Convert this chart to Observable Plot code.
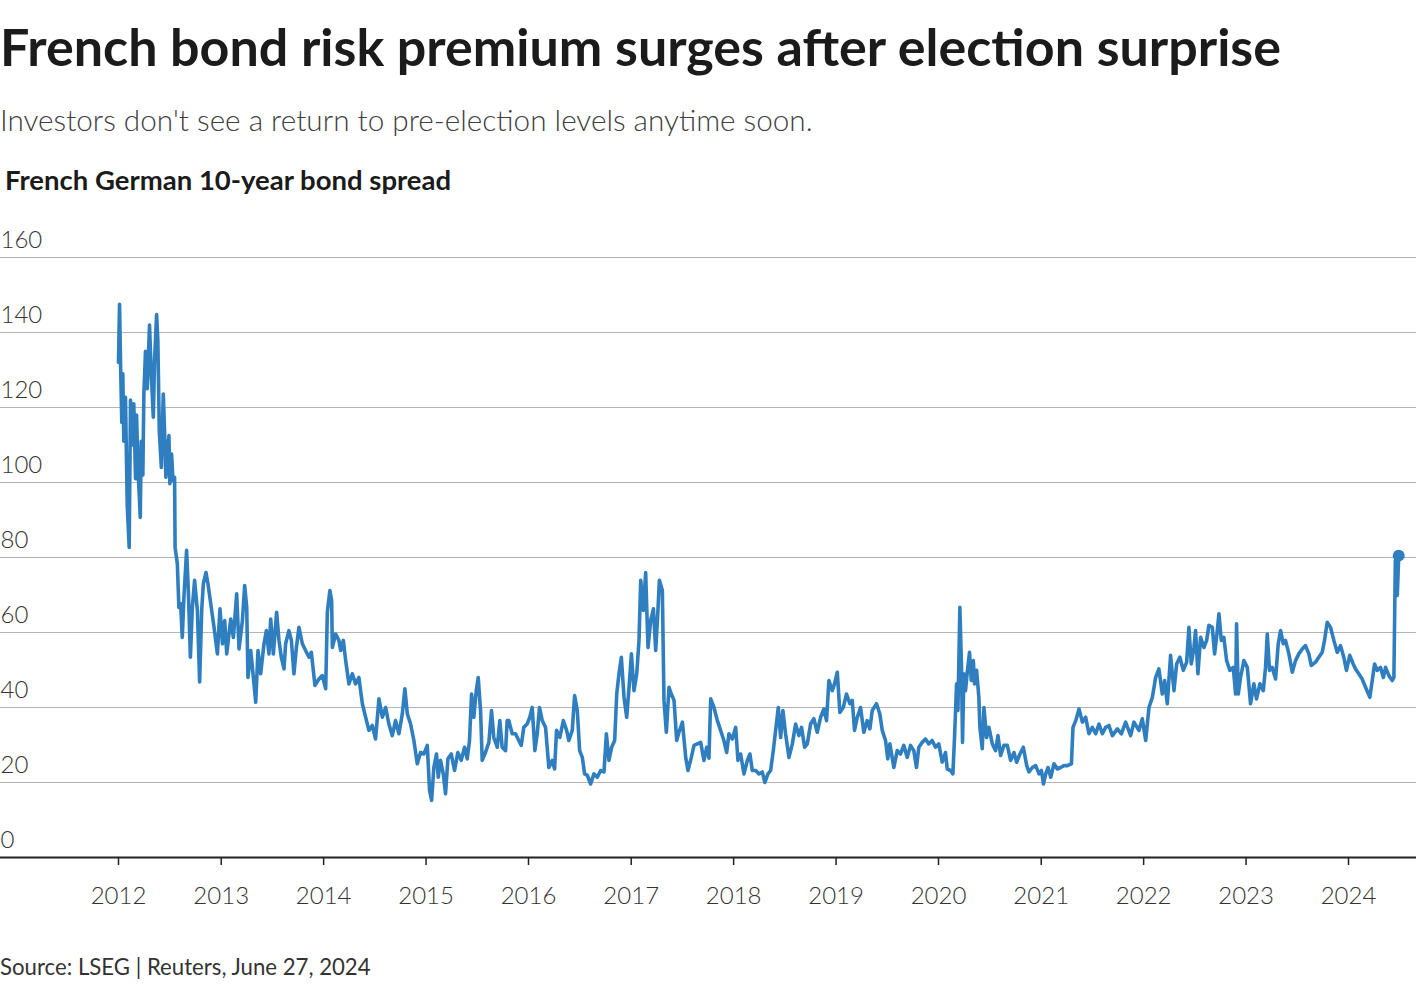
<!DOCTYPE html>
<html>
<head>
<meta charset="utf-8">
<script src="https://cdn.jsdelivr.net/npm/d3@7"></script>
<script src="https://cdn.jsdelivr.net/npm/@observablehq/plot@0.6"></script>
<style>
  html, body { margin: 0; padding: 0; background: #fff; }
  body { width: 1420px; height: 990px; position: relative; overflow: hidden; font-family: Lato, "Noto Sans", sans-serif; }
  .title { position: absolute; left: 0; top: 15px; font-size: 52px; font-weight: 700; color: #1b1b1b; white-space: nowrap; }
  .subtitle { position: absolute; left: 0; top: 102px; font-size: 29.7px; font-weight: 300; color: #404040; white-space: nowrap; }
  .label { position: absolute; left: 5px; top: 163px; font-size: 27.5px; font-weight: 700; color: #1b1b1b; white-space: nowrap; }
  .source { position: absolute; left: 0; top: 953px; font-size: 22.2px; font-weight: 400; color: #333; white-space: nowrap; }
  #chart { position: absolute; left: 0; top: 200px; }
</style>
</head>
<body>
<div class="title">French bond risk premium surges after election surprise</div>
<div class="subtitle">Investors don't see a return to pre-election levels anytime soon.</div>
<div class="label">French German 10-year bond spread</div>
<div id="chart"></div>
<div class="source">Source: LSEG | Reuters, June 27, 2024</div>
<script>
// Decimal-year dates of readings
const years = [
2012.000,2012.010,2012.020,2012.032,2012.042,2012.052,2012.068,2012.085,2012.104,2012.117,2012.134,2012.149,2012.166,2012.176,2012.188,2012.212,2012.221,2012.237,2012.247,2012.263,2012.280,2012.302,2012.319,2012.339,2012.351,2012.371,2012.383,2012.397,2012.417,2012.436,2012.452,2012.461,2012.491,2012.500,2012.517,2012.530,2012.546,2012.551,2012.573,2012.588,2012.605,2012.621,2012.637,2012.663,2012.680,2012.700,2012.719,2012.741,2012.768,2012.790,2012.810,2012.826,2012.852,2012.871,2012.898,2012.930,2012.963,2012.988,
2013.012,2013.034,2013.054,2013.093,2013.119,2013.151,2013.174,2013.207,2013.229,2013.249,2013.261,2013.288,2013.314,2013.337,2013.359,2013.385,2013.418,2013.441,2013.466,2013.483,2013.509,2013.541,2013.564,2013.587,2013.613,2013.629,2013.661,2013.685,2013.710,2013.734,2013.759,2013.792,2013.824,2013.857,2013.880,2013.915,2013.954,2013.987,
2014.020,2014.036,2014.061,2014.078,2014.085,2014.117,2014.149,2014.166,2014.192,2014.215,2014.247,2014.280,2014.312,2014.344,2014.378,2014.410,2014.442,2014.475,2014.507,2014.540,2014.573,2014.605,2014.637,2014.670,2014.702,2014.735,2014.768,2014.793,2014.817,2014.849,2014.881,2014.914,2014.946,2014.979,
2015.012,2015.034,2015.054,2015.076,2015.102,2015.119,2015.141,2015.168,2015.190,2015.213,2015.246,2015.278,2015.310,2015.343,2015.376,2015.402,2015.424,2015.444,2015.466,2015.490,2015.509,2015.532,2015.548,2015.580,2015.613,2015.639,2015.661,2015.695,2015.720,2015.743,2015.776,2015.792,2015.808,2015.841,2015.873,2015.905,2015.929,2015.954,2015.987,
2016.013,2016.036,2016.062,2016.085,2016.107,2016.134,2016.166,2016.198,2016.231,2016.254,2016.273,2016.305,2016.339,2016.371,2016.393,2016.426,2016.449,2016.475,2016.498,2016.524,2016.546,2016.573,2016.605,2016.637,2016.670,2016.702,2016.735,2016.758,2016.783,2016.810,2016.839,2016.859,2016.881,2016.904,2016.930,2016.956,2016.979,
2017.002,2017.027,2017.054,2017.076,2017.093,2017.119,2017.141,2017.164,2017.190,2017.217,2017.239,2017.256,2017.275,2017.304,2017.320,2017.343,2017.369,2017.392,2017.418,2017.444,2017.466,2017.500,2017.532,2017.554,2017.587,2017.613,2017.646,2017.678,2017.710,2017.737,2017.759,2017.776,2017.808,2017.841,2017.873,2017.905,2017.932,2017.954,2017.987,
2018.020,2018.042,2018.068,2018.101,2018.134,2018.159,2018.182,2018.215,2018.247,2018.280,2018.305,2018.335,2018.361,2018.387,2018.410,2018.436,2018.459,2018.481,2018.507,2018.540,2018.573,2018.605,2018.637,2018.663,2018.693,2018.719,2018.751,2018.783,2018.816,2018.849,2018.881,2018.907,2018.930,2018.963,2018.985,
2019.012,2019.037,2019.070,2019.102,2019.135,2019.158,2019.180,2019.207,2019.239,2019.271,2019.304,2019.330,2019.353,2019.395,2019.427,2019.451,2019.483,2019.505,2019.525,2019.564,2019.597,2019.629,2019.661,2019.695,2019.727,2019.759,2019.785,2019.808,2019.841,2019.873,2019.905,2019.938,2019.971,
2020.003,2020.036,2020.068,2020.085,2020.117,2020.140,2020.156,2020.176,2020.189,2020.208,2020.224,2020.234,2020.247,2020.263,2020.280,2020.302,2020.319,2020.339,2020.351,2020.371,2020.393,2020.403,2020.426,2020.442,2020.468,2020.491,2020.524,2020.556,2020.579,2020.605,2020.637,2020.670,2020.702,2020.735,2020.761,2020.793,2020.826,2020.859,2020.881,2020.914,2020.946,2020.979,
2021.002,2021.022,2021.044,2021.066,2021.093,2021.125,2021.158,2021.190,2021.222,2021.256,2021.295,2021.310,2021.337,2021.369,2021.402,2021.434,2021.466,2021.499,2021.532,2021.564,2021.597,2021.629,2021.661,2021.695,2021.743,2021.783,2021.824,2021.873,2021.905,2021.954,2021.987,
2022.020,2022.052,2022.085,2022.117,2022.149,2022.182,2022.205,2022.231,2022.263,2022.296,2022.322,2022.354,2022.387,2022.420,2022.442,2022.465,2022.491,2022.507,2022.530,2022.556,2022.588,2022.615,2022.637,2022.670,2022.693,2022.719,2022.735,2022.758,2022.783,2022.810,2022.842,2022.875,2022.898,2022.907,2022.924,2022.946,2022.979,
2023.012,2023.044,2023.076,2023.102,2023.135,2023.168,2023.190,2023.207,2023.229,2023.255,2023.288,2023.314,2023.337,2023.363,2023.385,2023.418,2023.451,2023.483,2023.515,2023.548,2023.580,2023.613,2023.636,2023.678,2023.710,2023.743,2023.766,2023.792,2023.824,2023.857,2023.890,2023.922,2023.954,2023.980,
2024.012,2024.046,2024.068,2024.100,2024.133,2024.166,2024.208,2024.231,2024.254,2024.280,2024.312,2024.339,2024.361,2024.393,2024.426,2024.442,2024.456,2024.475,2024.489
];
// French-German 10-year spread, basis points
const spread = [
132,147.5,131.7,116,129,111,122.7,94,82.7,122,110,121,101,118,105,90.7,111,102,123.7,135,125,142,129,117.4,132.5,144.8,138,113.9,104,123.6,111,101.4,112.5,99.7,107.6,100.5,101.4,82.7,78.3,66.7,67.7,58.7,69.4,81.9,71.2,53.4,66.7,73.9,65.9,46.8,65.9,73,76,73,67.7,61.4,54.3,66.3,
57,63.2,54.3,63.6,58.7,70.3,55.6,63.2,72.5,66.7,48,55.2,48,41.4,55.2,49,57,60.5,54.3,63.6,54.3,65.4,57.9,53.4,50.3,57,60.5,57.9,49,56,61.4,57,55.2,53.4,54.7,45.9,47.6,48.5,
45,65.4,71.2,68.5,56,59.6,57.9,55.2,57.9,52.5,46.3,49,46.3,48,41,37.4,33.9,35.2,31.6,42.3,37.4,40,35.6,32.5,36.5,33,38.3,45,38.3,35.6,31.2,25,28,27.6,
29.9,17.9,15.2,24,27.6,21.4,25.9,22.3,17,26.3,27.6,23.2,28,25.9,29.4,26.3,31.2,43.6,37.4,44.5,48,39.2,25.9,28,30.7,39.2,32,29.4,36.5,29.4,28.5,36.5,36.5,33,33,31.2,29.9,34.7,35.6,
37.4,40,28.5,33,40,36.5,34.7,24,25.9,23.6,33.9,32,36.5,33.9,31.2,33.9,43.2,39.2,28.5,26.7,22.3,21.9,19.6,22.3,21.4,23.2,22.8,33,25.9,29.4,31.2,43.6,49,53.4,42.7,37.4,45.4,
54.3,44.5,49,57.9,73.9,65.9,76,56,63.2,66.3,55.2,63.2,73.9,71.2,41.9,33.4,45.4,43.6,41.9,31.2,33.4,36.1,26.7,23.2,26.7,29.9,30.3,30.7,25.9,29.4,26.5,42.3,40,36.5,33.9,31.2,28,33,31.6,
34.7,25.9,27.6,22.3,25.9,27.6,23.2,23.2,22.3,22.8,20,22.3,23.2,28.5,33.9,40,32,39.2,33,26.7,30.3,35.6,32.5,34.7,29.4,30.3,35.6,37,33.4,37.4,39.6,36.5,47.2,44.5,46.3,
49.4,38.7,40,43.6,41,41.9,33.9,37.4,40,33.4,36.5,34.3,39.2,41,38.3,33.9,31.2,26.3,30.3,24,28.5,27.6,29.9,26.7,29.9,28.5,24,29.4,30.7,31.6,30.3,31.2,29.4,
30.3,25.4,28,23.6,23.2,22.3,32,46.3,39.2,66.7,50.7,30.7,49,44.5,49.4,54.7,47.2,52.5,46.3,49.9,42.7,34.7,29,40,32,34.7,30.3,28.5,32.5,27.2,29.9,29.9,25.9,28,25.4,27.6,29.4,24.5,22.8,24,24.5,22.3,
23.2,19.6,22.3,24,21.4,25,23.6,24,24.5,24.5,25,34.7,36.5,39.6,36.1,37.4,33,34.7,33,35.6,33,34.7,35.2,32.5,34.3,33,36.1,32.5,36.1,33.9,37,
31.2,40,42.7,48,50.3,43.6,47.2,41,53.9,44.5,51.6,53.4,49.9,52.1,61.4,51.6,56,60.5,49,58.7,56,57.9,61.9,61.4,54.3,60.5,65,57.9,58.7,52.5,49.9,50.7,43.6,62.3,43.6,48,52.5,
50.7,41,46.3,42.3,46.3,44.5,50.7,59.6,49.9,50.7,47.6,57,60.5,57,57.9,54.3,49.4,52.5,54.3,55.6,56.5,54.3,51.2,52.1,53.4,54.7,57.9,62.7,61.4,57.9,54.7,56.5,53.4,49.9,
53.9,51.6,50.3,49,47.6,45.4,42.7,47.2,51.6,49.9,50.7,48,50.7,48.5,47.2,48,79.2,69.9,80.5
];
const yTicks = [0, 20, 40, 60, 80, 100, 120, 140, 160];
const xTickYears = [2012, 2013, 2014, 2015, 2016, 2017, 2018, 2019, 2020, 2021, 2022, 2023, 2024];

function toDate(t) {
  const y = Math.floor(t);
  const a = Date.UTC(y, 0, 1), b = Date.UTC(y + 1, 0, 1);
  return new Date(a + (t - y) * (b - a));
}
const data = years.map((t, i) => ({date: toDate(t), value: spread[i]}));
const last = data[data.length - 1];
const xTicks = xTickYears.map(y => new Date(Date.UTC(y, 0, 1)));
const lineColor = "#2f7fc0";

const chart = Plot.plot({
  width: 1420,
  height: 720,
  marginLeft: 0,
  marginRight: 4,
  marginTop: 57,
  marginBottom: 63,
  style: {fontFamily: "Lato, 'Noto Sans', sans-serif", background: "transparent", overflow: "visible"},
  x: {type: "utc", domain: [xTicks[0], xTicks[xTicks.length - 1]], range: [118, 1348]},
  y: {domain: [0, 160]},
  marks: [
    Plot.ruleY(yTicks.filter(d => d > 0), {stroke: "#b4b4b4", strokeWidth: 1}),
    Plot.axisY(yTicks, {anchor: "left", tickSize: 0, tickPadding: 0, textAnchor: "start", dy: -17, fontSize: 24, fontWeight: 300, fill: "#333", label: null}),
    Plot.axisX(xTicks, {anchor: "bottom", tickSize: 8, tickPadding: 21, tickFormat: d3.utcFormat("%Y"), fontSize: 24, fontWeight: 300, fill: "#333", stroke: "#222", strokeWidth: 1.5, label: null}),
    Plot.line(data, {x: "date", y: "value", stroke: lineColor, strokeWidth: 3.6, strokeLinejoin: "round"}),
    Plot.dot([last], {x: "date", y: "value", r: 6, fill: lineColor, stroke: null}),
    Plot.ruleY([0], {stroke: "#222", strokeWidth: 2})
  ]
});
document.getElementById("chart").appendChild(chart);
</script>
</body>
</html>
